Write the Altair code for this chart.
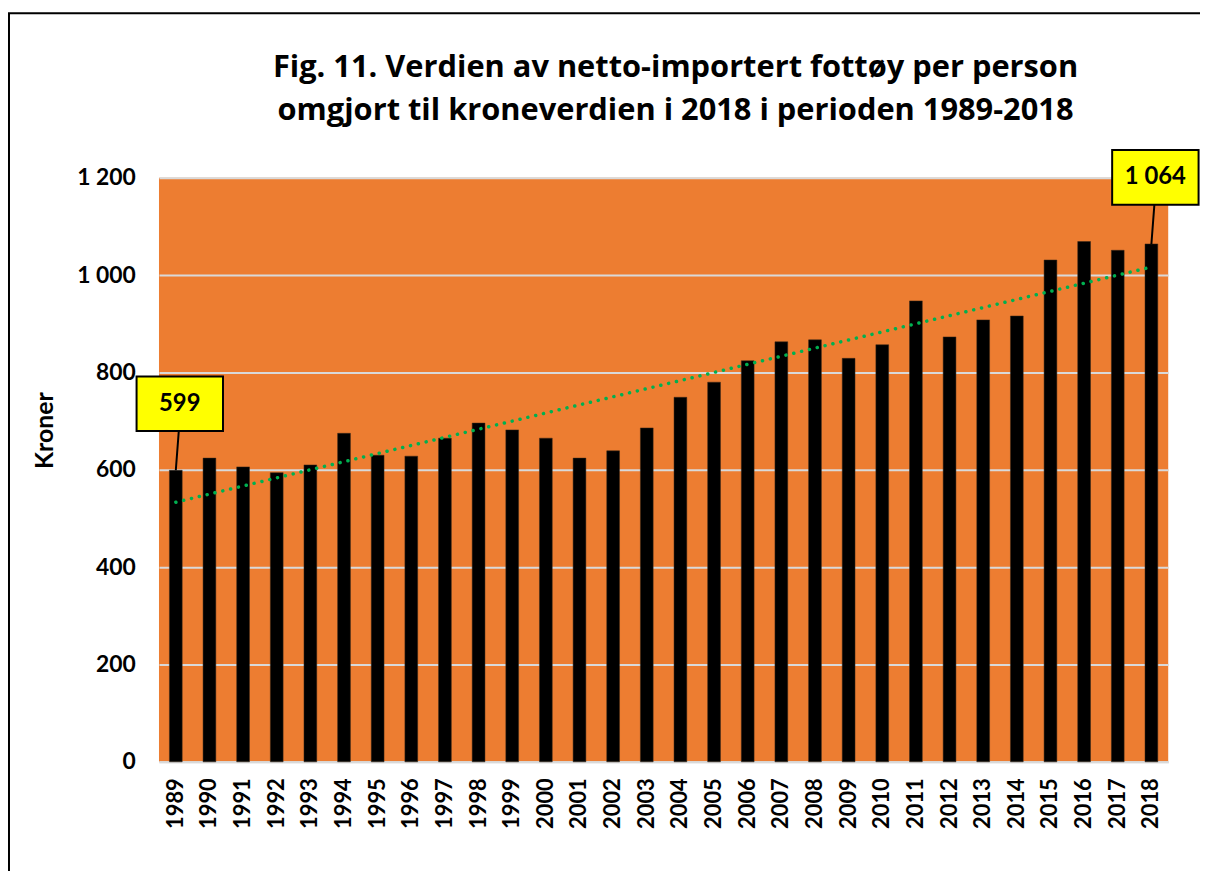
import altair as alt
import pandas as pd

years = list(range(1989, 2019))
values = [599, 624, 606, 594, 610, 675, 630, 628, 665, 696,
          682, 665, 624, 639, 686, 749, 780, 824, 863, 867,
          829, 857, 947, 873, 908, 916, 1031, 1069, 1051, 1064]
callout_years = [1989, 2018]

title_lines = ["Fig. 11. Verdien av netto-importert fottøy per person",
               "omgjort til kroneverdien i 2018 i perioden 1989-2018"]
y_title = "Kroner"
y_ticks = [0, 200, 400, 600, 800, 1000, 1200]

df = pd.DataFrame({"year": years, "value": values})
FONT = "Lato"

x_enc = alt.X("year:O", title=None,
              scale=alt.Scale(paddingInner=0.62, paddingOuter=0.31),
              axis=alt.Axis(labelAngle=270, labelFontSize=22, labelFontWeight="bold",
                            labelFont=FONT, labelPadding=16, ticks=False,
                            domainColor="#D9D9D9", domainWidth=2, labelColor="black"))
y_enc = alt.Y("value:Q", title=y_title,
              scale=alt.Scale(domain=[0, 1200], nice=False),
              axis=alt.Axis(values=y_ticks, labelFontSize=23, labelFontWeight="bold",
                            labelFont=FONT, labelPadding=24, ticks=False, domain=False,
                            gridColor="#D9D9D9", gridWidth=2, labelColor="black",
                            labelExpr="replace(format(datum.value, ','), ',', ' ')",
                            titleFontSize=25, titleFont=FONT, titleFontWeight="bold",
                            titleAngle=270, titleX=-115, titleY=254, titleAlign="center",
                            titleBaseline="middle", titleColor="black"))

one = pd.DataFrame({"k": [0]})
base = alt.Chart(df)

frame = alt.Chart(one).mark_rect(
    fill="white", fillOpacity=0, stroke="black", strokeWidth=2
).encode(x=alt.value(-151), x2=alt.value(1300), y=alt.value(-165.5), y2=alt.value(900))

title = alt.Chart(one).mark_text(
    text=title_lines, fontSize=31, font="Open Sans", fontWeight="bold", color="black",
    align="center", baseline="alphabetic", lineHeight=43
).encode(x=alt.value(520), y=alt.value(-101))

bars = base.mark_bar(color="black", stroke="#3a2a1a", strokeWidth=0.5).encode(x=x_enc, y=y_enc)

trend = base.transform_regression("year", "value", method="linear").mark_line(
    color="#00B050", strokeWidth=3.5, strokeDash=[0.1, 8], strokeCap="round"
).encode(x="year:O", y="value:Q")

box_path = "M-0.79,-1.89L0.95,-1.89L0.95,-0.79L-0.79,-0.79Z M0.06,-0.79L0,0"
callouts = base.transform_filter(
    alt.FieldOneOfPredicate(field="year", oneOf=callout_years)
).transform_calculate(
    label="replace(format(datum.value, ','), ',', ' ')"
)
boxes = callouts.mark_point(shape=box_path, size=10000, filled=True, fill="#FFFF00",
                            stroke="black", strokeWidth=2, opacity=1).encode(
    x="year:O", y="value:Q")
texts = callouts.mark_text(dx=4, dy=-67, fontSize=24, fontWeight="bold", font=FONT,
                           color="black", baseline="middle", align="center").encode(
    x="year:O", y="value:Q", text="label:N")

chart = alt.layer(frame, title, bars, trend, boxes, texts).properties(
    width=1016, height=588,
    autosize=alt.AutoSizeParams(type="none"),
    padding={"left": 152, "top": 168, "right": 32, "bottom": 107},
    background="white",
).configure_view(fill="#ED7D31", stroke=None)

chart.save("out.html", embed_options={"renderer": "svg", "actions": False})
